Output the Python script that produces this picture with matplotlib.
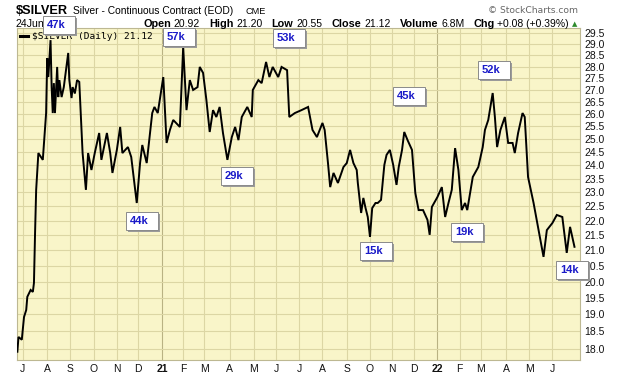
import numpy as np
import pandas as pd
import matplotlib
matplotlib.use('Agg')
import matplotlib.pyplot as plt
from matplotlib.patches import Rectangle
from matplotlib.ticker import FixedLocator, FixedFormatter, NullLocator
from pandas.tseries.holiday import USFederalHolidayCalendar
from pandas.tseries.offsets import CustomBusinessDay

# trading-day index counted from 24 Jun 2020, and the close
day = [0, 1, 4, 6, 8, 9, 12, 14, 15, 16, 17, 19, 23, 26, 27, 28, 30, 31, 32, 33, 34, 36,
       37, 38, 40, 42, 44, 46, 47, 49, 50, 52, 54, 56, 59, 62, 64, 67, 70, 74, 76, 81,
       84, 86, 90, 93, 95,
       100, 103, 108, 111, 113, 117, 122, 124, 127, 132, 135, 138, 141, 147, 150, 153,
       156, 159, 163, 165, 168, 171, 174, 177, 180, 183, 186, 190, 194, 197, 200, 203,
       208, 212, 213, 218, 221, 225, 228, 231, 236, 239, 244, 246, 251, 257, 263, 267,
       271, 276, 278, 281, 283, 286, 290, 295, 298, 301, 304, 307, 308, 311, 313, 315,
       317, 319, 321, 324, 326, 329, 332, 334, 337, 340, 343, 345, 348, 350, 353, 357,
       360, 363, 367, 371, 373, 375, 380, 384, 387, 390, 393, 396, 399, 402, 405, 407,
       410, 412, 417, 421, 423, 426, 430, 432, 434, 437, 441, 444, 448, 450, 453, 457,
       459, 462, 467, 471, 476, 479, 484, 488, 493, 497, 500, 504]
price = [17.92, 18.34, 18.26, 18.92, 19.13, 19.53, 19.74, 19.68, 19.96, 21.58, 23.09, 24.46,
         24.20, 26.04, 28.38, 27.55, 29.19, 27.12, 26.04, 27.29, 26.04, 27.99,
         26.70, 27.42, 26.70, 27.12, 27.85, 28.61, 27.42, 26.66, 27.12, 26.85, 27.42, 27.34,
         24.46, 23.09, 24.46, 23.82, 24.46, 25.24, 24.20, 25.24,
         24.46, 23.71, 24.58, 25.48, 24.46,
         24.69, 24.31, 22.62, 24.08, 24.77, 24.08, 26.04, 26.29, 26.04, 27.55, 24.85, 25.36,
         25.76, 25.48, 28.88, 26.16,
         27.42, 27.00, 27.12, 27.99, 27.73, 26.58, 25.28, 26.16, 25.88, 26.29, 25.24, 24.20,
         25.08, 25.48, 24.96, 25.88,
         26.29, 25.88, 27.00, 27.42, 27.29, 28.21, 27.55, 27.99, 27.55, 27.99, 27.85, 25.88,
         26.04, 26.16, 26.29, 25.36,
         25.08, 25.64, 25.36, 24.08, 23.19, 23.71, 23.34, 23.93, 24.08, 24.58, 24.08, 23.82,
         23.34, 22.27, 22.80, 22.44,
         22.13, 21.45, 22.44, 22.62, 22.62, 22.73, 24.01, 24.39, 24.58, 24.01, 23.27, 23.93,
         24.58, 25.28, 24.96, 24.58,
         22.98, 22.37, 22.37, 22.03, 21.52, 22.48, 22.83, 23.19, 22.13, 22.62, 23.09, 24.65,
         23.82, 22.37, 22.62, 22.37,
         23.09, 23.56, 23.93, 24.69, 25.36, 25.76, 26.87, 25.88, 24.69, 25.36, 25.88, 24.85,
         24.85, 24.46, 25.24, 26.04,
         25.88, 23.56, 22.62, 21.79, 20.79, 21.68, 21.92, 22.20, 22.13, 20.92, 21.79, 21.12]

price_ticks = [18.0 + 0.5 * k for k in range(24)]

# quote line: (label, value)
quote = [('Open', '20.92'), ('High', '21.20'), ('Low', '20.55'), ('Close', '21.12'),
         ('Volume', '6.8M'), ('Chg', '+0.08 (+0.39%)')]

# volume callouts and where they sit on the page (pixels)
vol_labels = ['47k', '57k', '53k', '44k', '29k', '15k', '45k', '19k', '52k', '14k']
vol_xy = [(59, 25), (179, 37), (289, 38), (142, 221), (237, 176), (376, 251),
          (409, 96), (467, 232), (494, 70), (572, 270)]

W, H = 620, 376
BG = '#f9f5c9'
GRID = '#dcd6a4'
YEARGRID = '#b9b283'
plt.rcParams['font.family'] = ['Liberation Sans', 'DejaVu Sans']

fig = plt.figure(figsize=(W / 100, H / 100), dpi=100)
fig.patch.set_facecolor('white')
ax = fig.add_axes([16.6 / W, 1 - 360 / H, (580 - 16.6) / W, (360 - 28) / H])
ax.set_facecolor(BG)

# month gridlines from a business-day calendar
cal = pd.date_range('2020-06-24', periods=530, freq=CustomBusinessDay(calendar=USFederalHolidayCalendar()))
month_pos, month_lab, month_year = [], [], []
for m in pd.date_range('2020-07-01', '2022-06-01', freq='MS'):
    idx = int(np.searchsorted(cal, m))
    month_pos.append(idx)
    month_year.append(m.month == 1)
    month_lab.append(m.strftime('%y') if m.month == 1 else m.strftime('%b')[0])

for p, yr in zip(month_pos, month_year):
    ax.axvline(p, color=YEARGRID if yr else GRID, lw=0.8, zorder=1)

ax.set_yscale('log')
ax.yaxis.set_major_locator(FixedLocator(price_ticks))
ax.yaxis.set_major_formatter(FixedFormatter([f'{v:.1f}' for v in price_ticks]))
ax.yaxis.set_minor_locator(NullLocator())
ax.grid(axis='y', color=GRID, lw=0.8, zorder=1)
ax.yaxis.tick_right()
ax.tick_params(axis='y', length=0, pad=3, labelsize=7.5, labelcolor='#111111')

ax.set_xticks(month_pos)
ax.set_xticklabels(month_lab)
for lab, yr in zip(ax.get_xticklabels(), month_year):
    if yr:
        lab.set_fontweight('bold')
ax.tick_params(axis='x', length=0, pad=3, labelsize=7.5, labelcolor='#111111')

ax.plot(day, price, color='black', lw=1.4, zorder=3, solid_joinstyle='miter')
ax.set_xlim(-0.7, 509)
ax.set_ylim(17.69, 29.75)
for s in ax.spines.values():
    s.set_color('#bdb892')
    s.set_linewidth(0.8)


def px(x, y):
    return x / W, 1 - y / H


# header
fig.text(*px(16, 14.5), '$SILVER', fontsize=9.2, fontweight='bold', va='baseline')
fig.text(*px(73, 14.5), 'Silver - Continuous Contract (EOD)', fontsize=7.4, va='baseline')
fig.text(*px(245, 14.5), 'CME', fontsize=6.6, va='baseline')
fig.text(*px(578, 13), '\u00a9 StockCharts.com', fontsize=6.6, color='#666666',
         ha='right', va='baseline', family='DejaVu Sans')
fig.text(*px(16, 27), '24Jun2022', fontsize=7.6, va='baseline')

renderer = fig.canvas.get_renderer()
x = 143
for lab, val in quote:
    t = fig.text(*px(x, 27), lab, fontsize=7.8, fontweight='bold', va='baseline')
    x += t.get_window_extent(renderer).width + 3
    t = fig.text(*px(x, 27), val, fontsize=7.5, va='baseline')
    x += t.get_window_extent(renderer).width + 9
fig.text(*px(x - 6, 26), '\u25b2', fontsize=5, color='#2e8b2e', va='baseline', family='DejaVu Sans')

# legend line
ax.plot([0.006, 0.02], [0.975, 0.975], transform=ax.transAxes, color='black', lw=2.2, zorder=4)
ax.text(0.027, 0.975, '$SILVER (Daily) 21.12', transform=ax.transAxes, fontsize=6.8,
        family='DejaVu Sans Mono', va='center', zorder=4)

# volume boxes
bw, bh = 32, 18
for lab, (cx, cy) in zip(vol_labels, vol_xy):
    x0, y0 = px(cx - bw / 2, cy + bh / 2)
    fig.add_artist(Rectangle((x0 + 2 / W, y0 - 2 / H), bw / W, bh / H, transform=fig.transFigure,
                             facecolor='#9a9a9a', edgecolor='none', zorder=10))
    fig.add_artist(Rectangle((x0, y0), bw / W, bh / H, transform=fig.transFigure,
                             facecolor='white', edgecolor='#8a8a8a', lw=0.7, zorder=11))
    fig.text(*px(cx - bw / 2 + 4, cy), lab, fontsize=8, fontweight='bold', color='#1a1ac8',
             va='center', ha='left', zorder=12)

fig.savefig('out.png', dpi=100, facecolor='white')
